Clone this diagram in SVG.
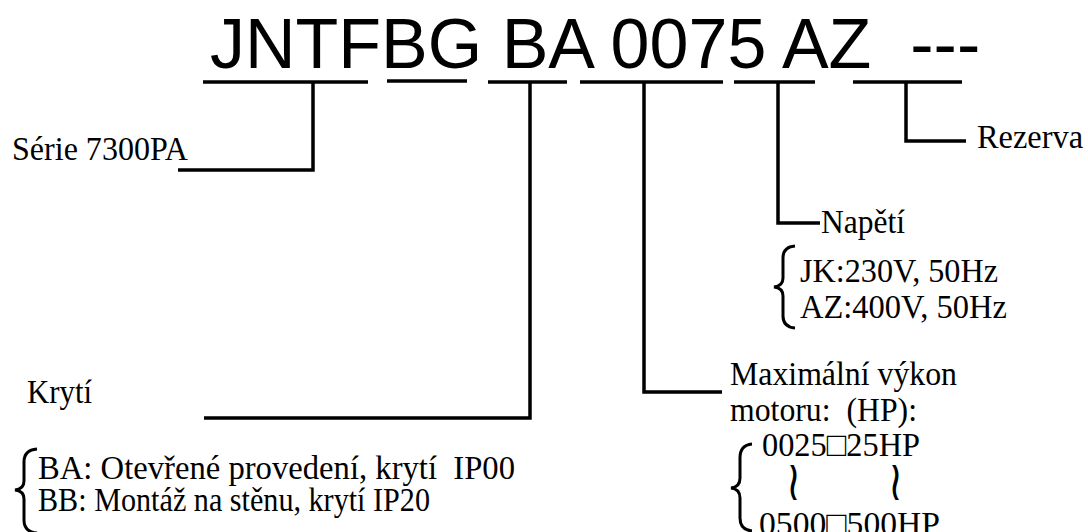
<svg xmlns="http://www.w3.org/2000/svg" width="1088" height="532" viewBox="0 0 1088 532">
<style>
.t{font-family:"Liberation Serif","Times New Roman",serif;font-size:34px;fill:#000}
.title{font-family:"Liberation Sans",Arial,sans-serif;font-size:70px;fill:#000}
.ln{fill:none;stroke:#000;stroke-width:3.5;stroke-linecap:butt;stroke-linejoin:miter}
.br{fill:none;stroke:#000;stroke-width:3}
.sq{font-family:"DejaVu Sans",sans-serif;font-weight:200;font-size:40px;fill:#000}
</style>
<rect width="1088" height="532" fill="#fff"/>
<g id="title">
<text class="title" x="210" y="68" xml:space="preserve">JNTFBG BA 0075 AZ  ---</text>
</g>
<g id="underlines">
<line class="ln" x1="203" y1="82" x2="368" y2="82"/>
<line class="ln" x1="387" y1="81" x2="467" y2="81"/>
<line class="ln" x1="488" y1="82" x2="567" y2="82"/>
<line class="ln" x1="580" y1="82" x2="723" y2="82"/>
<line class="ln" x1="734" y1="82" x2="815" y2="82"/>
<line class="ln" x1="853" y1="82" x2="962" y2="82"/>
</g>
<g id="connectors">
<path class="ln" d="M313,82 V170 H178"/>
<path class="ln" d="M530,82 V418 H204"/>
<path class="ln" d="M644,82 V392 H722"/>
<path class="ln" d="M778,82 V223 H820"/>
<path class="ln" d="M906,82 V141 H966"/>
</g>
<g id="serie">
<text class="t" x="12" y="160" textLength="176" lengthAdjust="spacingAndGlyphs">Série 7300PA</text>
</g>
<g id="rezerva">
<text class="t" x="977" y="148" textLength="106" lengthAdjust="spacingAndGlyphs">Rezerva</text>
</g>
<g id="napeti">
<text class="t" x="821" y="233" textLength="84" lengthAdjust="spacingAndGlyphs">Napětí</text>
<path class="br" d="M795,246 Q783,247 783,258 V278 Q783,286 774,287 Q783,288 783,296 V316 Q783,327 795,328"/>
<text class="t" x="800" y="282" textLength="198" lengthAdjust="spacingAndGlyphs">JK:230V, 50Hz</text>
<text class="t" x="800" y="318" textLength="207" lengthAdjust="spacingAndGlyphs">AZ:400V, 50Hz</text>
</g>
<g id="vykon">
<text class="t" x="730" y="385" textLength="227" lengthAdjust="spacingAndGlyphs">Maximální výkon</text>
<text class="t" x="730" y="421" xml:space="preserve" textLength="187" lengthAdjust="spacingAndGlyphs">motoru:  (HP):</text>
<path class="br" d="M752,444 Q740,445 740,458 V478 Q740,487 731,488 Q740,489 740,498 V518 Q740,530 752,531"/>
<text class="t" x="762" y="456" textLength="158" lengthAdjust="spacingAndGlyphs">0025□25HP</text>
<text class="sq" transform="translate(786,500) scale(1,1.4)">≀</text>
<text class="sq" transform="translate(888,500) scale(1,1.4)">≀</text>
<text class="t" x="759" y="535" textLength="181" lengthAdjust="spacingAndGlyphs">0500□500HP</text>
</g>
<g id="kryti">
<text class="t" x="27" y="403" textLength="65" lengthAdjust="spacingAndGlyphs">Krytí</text>
<path class="br" d="M37,449 Q24,450 24,462 V481 Q24,489 15,490 Q24,491 24,499 V520 Q24,532 37,533"/>
<text class="t" x="38" y="479" xml:space="preserve" textLength="477" lengthAdjust="spacingAndGlyphs">BA: Otevřené provedení, krytí  IP00</text>
<text class="t" x="38" y="511" textLength="392" lengthAdjust="spacingAndGlyphs">BB: Montáž na stěnu, krytí IP20</text>
</g>
</svg>
